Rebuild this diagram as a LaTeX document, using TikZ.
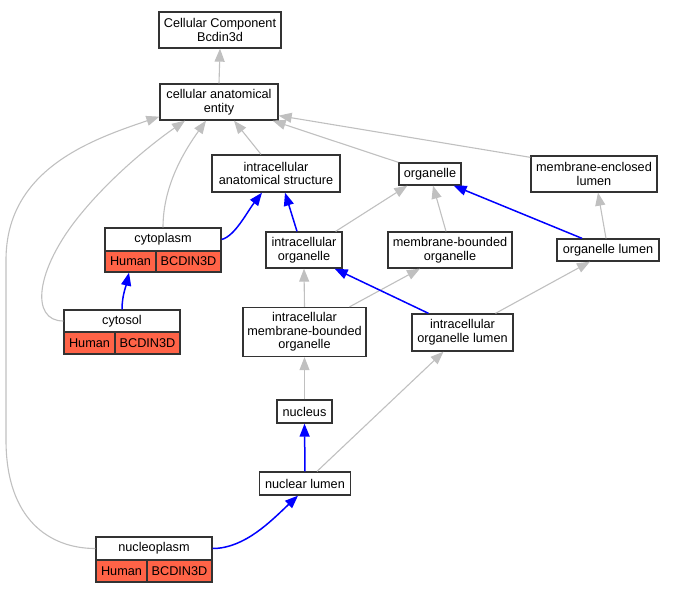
\documentclass[tikz,border=0pt]{standalone}
\usepackage{fontspec}
\setmainfont{Liberation Sans}
\usetikzlibrary{arrows.meta}
\definecolor{edgegray}{HTML}{C0C0C0}
\definecolor{edgeblue}{HTML}{0000FF}
\definecolor{cellred}{HTML}{FF6347}
\tikzset{
  box/.style={draw=black!80, line width=1.3pt, fill=white, inner sep=0pt, align=center,
    font=\fontsize{12.7}{13.7}\selectfont},
  cell/.style={box, fill=cellred},
  gedge/.style={draw=edgegray, line width=1.1pt, -{Triangle[length=13pt,width=10pt]}},
  bedge/.style={draw=edgeblue, line width=1.5pt, -{Triangle[length=13pt,width=10pt]}},
}
\begin{document}
\begin{tikzpicture}[x=1pt,y=-1pt]
\useasboundingbox (0,0) rectangle (675,592);
% nodes
\node[box, minimum width=122, minimum height=36] (CC) at (220,30) {Cellular Component\\Bcdin3d};
\node[box, minimum width=118, minimum height=36] (cae) at (219,102) {cellular anatomical\\entity};
\node[box, minimum width=128, minimum height=37] (ias) at (276,173.5) {intracellular\\anatomical structure};
\node[box, minimum width=62, minimum height=22] (org) at (430,174) {organelle};
\node[box, minimum width=126, minimum height=36] (mel) at (594,174) {membrane-enclosed\\lumen};
\node[box, minimum width=76, minimum height=36] (io) at (304,250) {intracellular\\organelle};
\node[box, minimum width=124, minimum height=36] (mbo) at (450,250) {membrane-bounded\\organelle};
\node[box, minimum width=102, minimum height=22] (ol) at (608,250) {organelle lumen};
\node[box, minimum width=123, minimum height=49] (imbo) at (304.5,332) {intracellular\\membrane-bounded\\organelle};
\node[box, minimum width=101, minimum height=37] (iol) at (462.5,332.5) {intracellular\\organelle lumen};
\node[box, minimum width=55, minimum height=23] (nucleus) at (304.5,411.5) {nucleus};
\node[box, minimum width=91, minimum height=23] (nl) at (305,483.5) {nuclear lumen};
% gene-annotated nodes
\node[box, minimum width=116, minimum height=23] (cyto) at (163,239.5) {cytoplasm};
\node[cell, minimum width=51, minimum height=21] (cytoH) at (130.5,261.5) {Human};
\node[cell, minimum width=65, minimum height=21] (cytoB) at (188.5,261.5) {BCDIN3D};
\node[box, minimum width=116, minimum height=22] (cytosol) at (122,321) {cytosol};
\node[cell, minimum width=51, minimum height=22] (cytosolH) at (89.5,343) {Human};
\node[cell, minimum width=65, minimum height=22] (cytosolB) at (147.5,343) {BCDIN3D};
\node[box, minimum width=116, minimum height=23] (np) at (154,548.5) {nucleoplasm};
\node[cell, minimum width=51, minimum height=22] (npH) at (121.5,571) {Human};
\node[cell, minimum width=65, minimum height=22] (npB) at (179.5,571) {BCDIN3D};
% gray edges
\draw[gedge] (cae.north) -- (CC.south);
\draw[gedge] ([xshift=-15pt]ias.north) -- ([xshift=15pt]cae.south);
\draw[gedge] (org.north west) -- ([xshift=-6pt]cae.south east);
\draw[gedge] ([yshift=-2pt]mel.north west) -- ([yshift=5pt]cae.south east);
\draw[gedge] (cyto.north) .. controls (163,185) and (185,150) .. ([xshift=-13pt]cae.south);
\draw[gedge] (cytosol.west) .. controls (30,321) and (35,270) .. (80,215) .. controls (110,178) and (150,145) .. ([xshift=-34pt]cae.south);
\draw[gedge] (np.west) .. controls (50,548.5) and (6,520) .. (6,440) -- (6,260) .. controls (6,170) and (90,140) .. ([yshift=4pt]cae.south west);
\draw[gedge] ([xshift=-7pt]io.north east) -- ([xshift=9pt]org.south west);
\draw[gedge] ([xshift=-4pt]mbo.north) -- ([xshift=3pt]org.south);
\draw[gedge] ([xshift=-2pt]ol.north) -- ([xshift=4pt]mel.south);
\draw[gedge] (imbo.north) -- (io.south);
\draw[gedge] ([xshift=45pt]imbo.north) -- ([xshift=-30pt]mbo.south);
\draw[gedge] ([xshift=33pt]iol.north) -- ([xshift=-18pt]ol.south);
\draw[gedge] (nucleus.north) -- (imbo.south);
\draw[gedge] ([xshift=12pt]nl.north) -- ([xshift=-19pt]iol.south);
% blue edges
\draw[bedge] (cyto.east) .. controls (235,236) and (247,212) .. ([xshift=-14pt]ias.south);
\draw[bedge] ([xshift=-7pt]io.north) -- ([xshift=9pt]ias.south);
\draw[bedge] ([xshift=-26pt]ol.north) -- ([xshift=-8pt]org.south east);
\draw[bedge] ([xshift=-34pt]iol.north) -- ([xshift=-8pt]io.south east);
\draw[bedge] (nl.north) -- (nucleus.south);
\draw[bedge] (np.east) .. controls (245,548.5) and (272,520) .. ([xshift=-7pt]nl.south);
\draw[bedge] (cytosol.north) .. controls (122,296) and (126,286) .. ([xshift=-1.5pt]cytoH.south);
\end{tikzpicture}
\end{document}
